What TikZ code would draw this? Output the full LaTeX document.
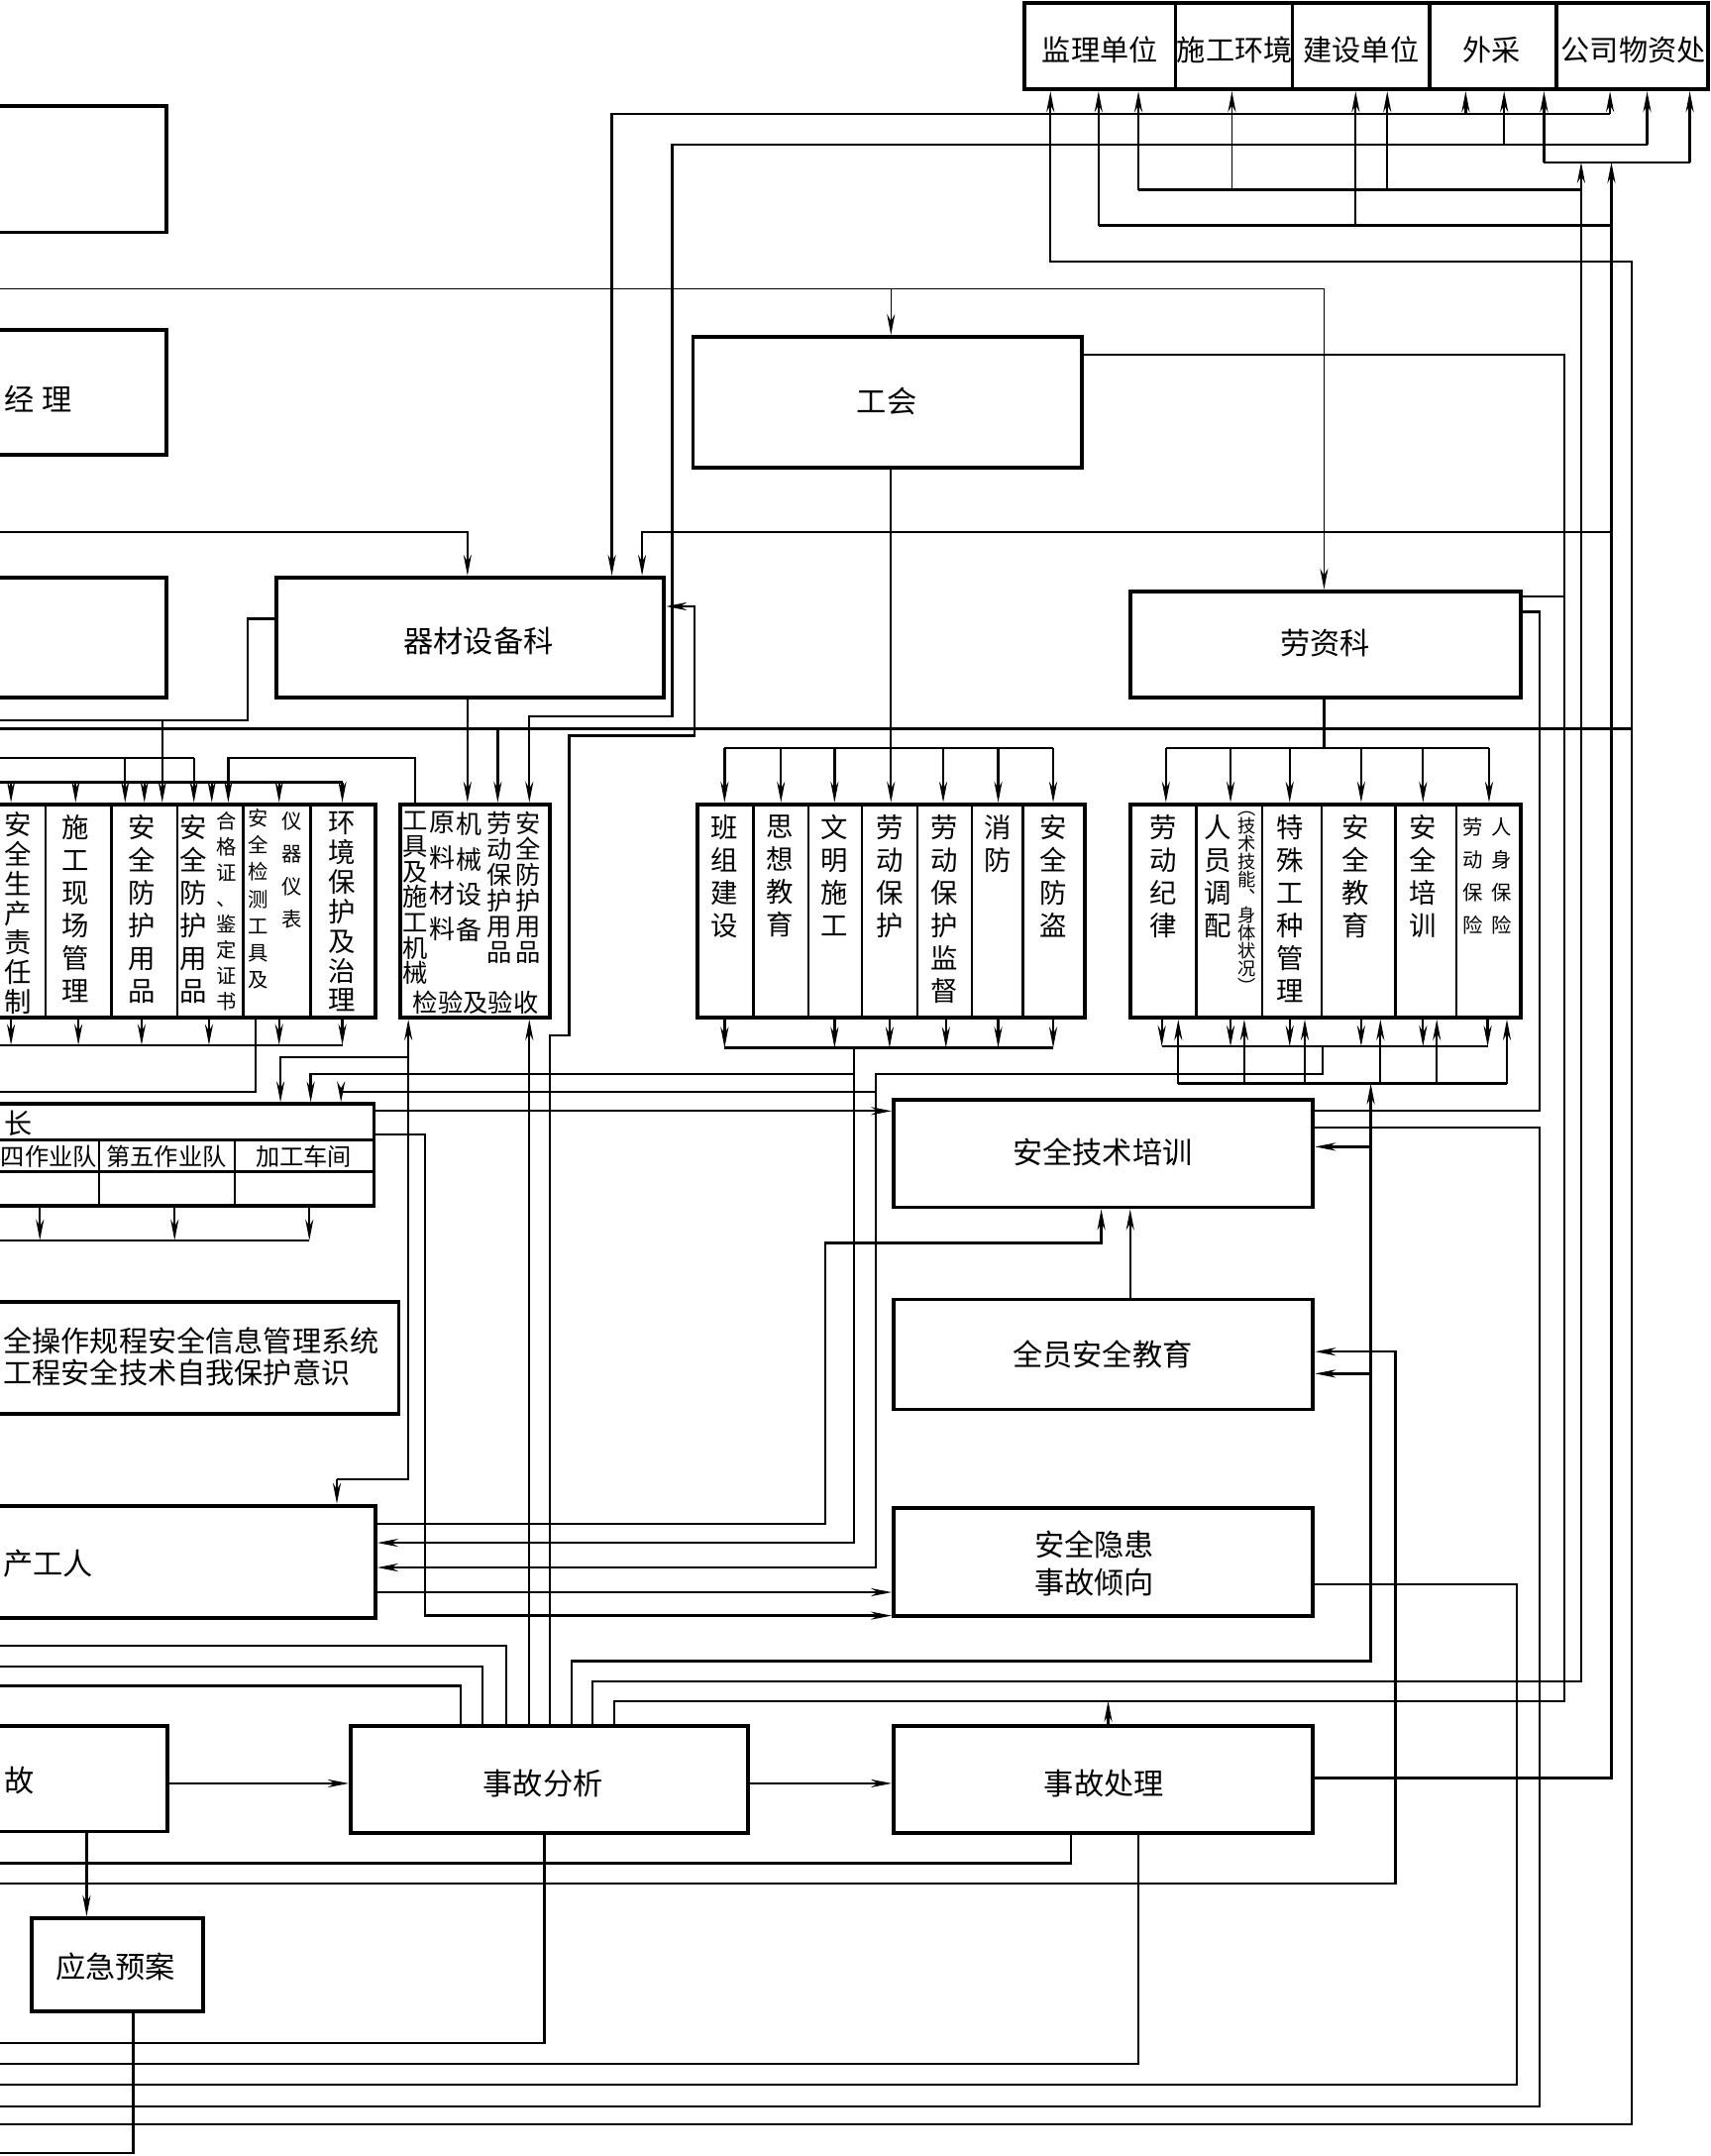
\documentclass[tikz,border=0pt]{standalone}
\usepackage{fontspec}
\setmainfont{Noto Sans CJK SC}
\usetikzlibrary{arrows.meta,fit}

\tikzset{
  box/.style={draw, line width=1.1pt, inner sep=0pt},
  lbl/.style={inner sep=0pt, align=center, font=\fontsize{8.6}{10.6}\selectfont},
  ln/.style={line width=0.65pt},
  thn/.style={line width=0.4pt},
  arr/.style={ln, -{Stealth[length=6pt,width=2.3pt]}},
  rar/.style={ln, {Stealth[length=6pt,width=2.3pt]}-},
  col/.style={anchor=north, align=center, inner sep=0pt, font=\fontsize{7.8}{9.4}\selectfont},
  scol/.style={anchor=north, align=center, inner sep=0pt, font=\fontsize{5.8}{7.4}\selectfont},
}
\lineskiplimit=-10pt

\begin{document}
\begin{tikzpicture}[x=0.01388cm, y=-0.01388cm]
  \useasboundingbox (0,0) rectangle (1244,1568);
  \clip (0,0) rectangle (1244,1568);

  % top row
  \node[box, fit={(745,2) (855,65)}] (jl) {};
  \node[box, fit={(855,2) (940,65)}] (sghj) {};
  \node[box, fit={(940,2) (1040,65)}] (jsdw) {};
  \node[box, fit={(1040,2) (1132,65)}] (wc) {};
  \node[box, fit={(1132,2) (1242,65)}] (gswz) {};
  \node[lbl, font=\fontsize{8.3}{10}\selectfont] (jlt) at (800,36) {监理单位};
  \node[lbl, font=\fontsize{8.3}{10}\selectfont] (sghjt) at (898,36) {施工环境};
  \node[lbl, font=\fontsize{8.3}{10}\selectfont] (jsdwt) at (990,36) {建设单位};
  \node[lbl, font=\fontsize{8.3}{10}\selectfont] (wct) at (1085,36) {外采};
  \node[lbl, font=\fontsize{8.3}{10}\selectfont] (gswzt) at (1188,36) {公司物资处};

  % boxes
  \node[box, fit={(-10,77) (121,169)}] (ga) {};
  \node[box, fit={(-10,240) (121,331)}] (jlb) {};
  \node[lbl, anchor=west] (jlbt) at (3,290) {经\hspace{2pt}理};
  \node[box, fit={(-10,420) (121,507)}] (gc) {};
  \node[box, fit={(201,420) (483,507)}] (qc) {};
  \node[lbl] (qct) at (348,466) {器材设备科};
  \node[box, fit={(504,245) (787,340)}] (gh) {};
  \node[lbl] (ght) at (645,292) {工会};
  \node[box, fit={(822,430) (1106,507)}] (lz) {};
  \node[lbl] (lzt) at (964,468) {劳资科};

  \node[box, fit={(-10,585) (273,740)}] (zr) {};
  \foreach \x in {33,81,129,177,226} \draw[ln] (\x,585) -- (\x,740);
  \node[col, font=\fontsize{7.8}{8.5}\selectfont] (zr1) at (13,590) {安\\全\\生\\产\\责\\任\\制};
  \node[col] (zr2) at (55,592) {施\\工\\现\\场\\管\\理};
  \node[col] (zr3) at (103,592) {安\\全\\防\\护\\用\\品};
  \node[col] (zr4) at (141,592) {安\\全\\防\\护\\用\\品};
  \node[scol] (zr5) at (165,590) {合\\格\\证\\、\\鉴\\定\\证\\书};
  \node[scol, font=\fontsize{5.8}{7.7}\selectfont] (zr6) at (188,588) {安\\全\\检\\测\\工\\具\\及};
  \node[scol, font=\fontsize{5.8}{9.4}\selectfont] (zr7) at (212,590) {仪\\器\\仪\\表};
  \node[col, font=\fontsize{7.8}{8.5}\selectfont] (zr8) at (249,590) {环\\境\\保\\护\\及\\治\\理};

  \node[box, fit={(291,585) (400,740)}] (gj) {};
  \node[col, font=\fontsize{7.2}{7.3}\selectfont] (gj1) at (302,590) {工\\具\\及\\施\\工\\机\\械};
  \node[col, font=\fontsize{7.4}{10.2}\selectfont] (gj2) at (322,590) {原\\料\\材\\料};
  \node[col, font=\fontsize{7.4}{10.2}\selectfont] (gj3) at (341,590) {机\\械\\设\\备};
  \node[col, font=\fontsize{7.2}{7.4}\selectfont] (gj4) at (363,590) {劳\\动\\保\\护\\用\\品};
  \node[col, font=\fontsize{7.2}{7.4}\selectfont] (gj5) at (384,590) {安\\全\\防\\护\\用\\品};
  \node[lbl, font=\fontsize{7.2}{8}\selectfont] (gj6) at (346,729) {检验及验收};

  \node[box, fit={(507,585) (789,740)}] (bz) {};
  \foreach \x in {548,588,627,667,707,744} \draw[ln] (\x,585) -- (\x,740);
  \node[col] (bz1) at (527,592) {班\\组\\建\\设};
  \node[col] (bz2) at (567,592) {思\\想\\教\\育};
  \node[col] (bz3) at (607,592) {文\\明\\施\\工};
  \node[col] (bz4) at (647,592) {劳\\动\\保\\护};
  \node[col] (bz5) at (687,592) {劳\\动\\保\\护\\监\\督};
  \node[col] (bz6) at (726,592) {消\\防};
  \node[col] (bz7) at (766,592) {安\\全\\防\\盗};

  \node[box, fit={(822,585) (1106,740)}] (ld) {};
  \foreach \x in {870,918,961,1015,1059} \draw[ln] (\x,585) -- (\x,740);
  \node[col] (ld1) at (846,592) {劳\\动\\纪\\律};
  \node[col] (ld2) at (886,592) {人\\员\\调\\配};
  \node[scol, font=\fontsize{5.2}{5.1}\selectfont] (ld3) at (907,590) {︵\\技\\术\\技\\能\\︑\\身\\体\\状\\况\\︶};
  \node[col] (ld4) at (938,592) {特\\殊\\工\\种\\管\\理};
  \node[col] (ld5) at (986,592) {安\\全\\教\\育};
  \node[col] (ld6) at (1035,592) {安\\全\\培\\训};
  \node[scol, font=\fontsize{5.8}{9.4}\selectfont] (ld7) at (1071,594) {劳\\动\\保\\险};
  \node[scol, font=\fontsize{5.8}{9.4}\selectfont] (ld8) at (1092,594) {人\\身\\保\\险};

  \node[box, fit={(-10,803) (272,877)}] (dz) {};
  \draw[ln] (-10,829) -- (272,829);
  \draw[ln] (-10,852) -- (272,852);
  \draw[ln] (72,829) -- (72,877);
  \draw[ln] (171,829) -- (171,877);
  \node[lbl, anchor=west, font=\fontsize{8}{9}\selectfont] (dzt) at (3,817) {长};
  \node[lbl, anchor=east, font=\fontsize{6.9}{8}\selectfont] (dz1) at (71,841) {四作业队};
  \node[lbl, font=\fontsize{6.9}{8}\selectfont] (dz2) at (121,841) {第五作业队};
  \node[lbl, font=\fontsize{6.9}{8}\selectfont] (dz3) at (221,841) {加工车间};

  \node[box, fit={(-10,947) (290,1028)}] (aqcz) {};
  \node[lbl, anchor=west, align=left, font=\fontsize{8.3}{9.1}\selectfont] (aqczt) at (2,987) {全操作规程安全信息管理系统\\工程安全技术自我保护意识};

  \node[box, fit={(650,800) (955,878)}] (aqjs) {};
  \node[lbl] (aqjst) at (802,838) {安全技术培训};
  \node[box, fit={(650,945) (955,1025)}] (qyaq) {};
  \node[lbl] (qyaqt) at (802,985) {全员安全教育};
  \node[box, fit={(-10,1095) (273,1177)}] (scgr) {};
  \node[lbl, anchor=west] (scgrt) at (2,1137) {产工人};
  \node[box, fit={(650,1097) (955,1175)}] (aqyh) {};
  \node[lbl] (aqyht) at (796,1137) {安全隐患\\事故倾向};
  \node[box, fit={(-10,1255) (122,1332)}] (sg) {};
  \node[lbl, anchor=west] (sgt) at (3,1295) {故};
  \node[box, fit={(255,1255) (544,1333)}] (sgfx) {};
  \node[lbl] (sgfxt) at (395,1297) {事故分析};
  \node[box, fit={(650,1255) (955,1333)}] (sgcl) {};
  \node[lbl] (sgclt) at (803,1297) {事故处理};
  \node[box, fit={(23,1395) (148,1463)}] (yjya) {};
  \node[lbl] (yjyat) at (84,1430) {应急预案};

  % lines to the top row
  \draw[rar] (qc.north -| 445,0) -- (445,83) -- (1171,83);
  \draw[arr] (1171,83) -- (gswz.south -| 1171,0);
  \draw[arr] (1066,83) -- (wc.south -| 1066,0);
  \draw[arr] (1094,105) -- (wc.south -| 1094,0);
  \draw[arr] (1198,105) -- (gswz.south -| 1198,0);
  \draw[arr] (1198,105) -- (489,105) -- (489,521) -- (385,521) -- (gj.north -| 385,0);
  \draw[ln] (1123,118) -- (1229,118);
  \draw[arr] (1123,118) -- (wc.south -| 1123,0);
  \draw[arr] (1229,118) -- (gswz.south -| 1229,0);
  \draw[arr] (sgfx.north -| 431,0) -- (431,1223) -- (1150,1223) -- (1150,118);
  \draw[ln] (828,138) -- (1150,138);
  \draw[arr] (828,138) -- (jl.south -| 828,0);
  \draw[arr, thn] (896,138) -- (sghj.south -| 896,0);
  \draw[arr] (1009,138) -- (jsdw.south -| 1009,0);
  \draw[arr] (sgcl.east |- 0,1293) -- (1172,1293) -- (1172,118);
  \draw[ln] (799,164) -- (1172,164);
  \draw[arr] (799,164) -- (jl.south -| 799,0);
  \draw[arr] (986,164) -- (jsdw.south -| 986,0);
  \draw[rar] (qc.north -| 467,0) -- (467,387) -- (1172,387);
  \draw[rar] (jl.south -| 764,0) -- (764,190) -- (1187,190) -- (1187,1545) -- (0,1545);

  % union and labour office
  \draw[arr, thn] (0,210) -- (963,210) -- (lz.north -| 963,0);
  \draw[arr, thn] (648,210) -- (gh.north -| 648,0);
  \draw[ln] (gh.east |- 0,258) -- (1138,258) -- (1138,1237) -- (447,1237) -- (sgfx.north -| 447,0);
  \draw[ln] (lz.east |- 0,434) -- (1138,434);
  \draw[arr] (sgcl.north -| 806,0) -- (806,1237);
  \draw[arr, thn] (0,387) -- (340,387) -- (qc.north -| 340,0);

  % equipment office
  \draw[ln] (qc.west |- 0,450) -- (180,450) -- (180,524) -- (0,524);
  \draw[arr] (118,524) -- (zr.north -| 118,0);
  \draw[ln] (0,530) -- (1187,530);
  \draw[arr] (362,530) -- (gj.north -| 362,0);
  \draw[arr] (qc.south -| 340,0) -- (gj.north -| 340,0);
  \draw[ln] (0,551) -- (141,551);
  \foreach \x in {91,141} \draw[arr] (\x,551) -- (zr.north -| \x,0);
  \draw[arr] (gj.north -| 302,0) -- (302,551) -- (166,551) -- (zr.north -| 166,0);
  \draw[ln] (0,569) -- (249,569);
  \foreach \x in {8,55,105,154,203,249} \draw[arr] (\x,569) -- (zr.north -| \x,0);
  \foreach \x in {8,57,103,152,203,249} \draw[arr] (zr.south -| \x,0) -- (\x,760);
  \draw[ln] (0,760) -- (249,760);
  \draw[ln] (zr.south -| 186,0) -- (186,794) -- (0,794);
  \draw[rar] (qc.east |- 0,441) -- (505,441) -- (505,535) -- (414,535) -- (414,753) -- (400,753) -- (sgfx.north -| 400,0);

  % tools box
  \draw[rar] (gj.south -| 297,0) -- (297,1076) -- (245,1076);
  \draw[arr] (245,1076) -- (scgr.north -| 245,0);
  \draw[arr] (297,769) -- (204,769) -- (dz.north -| 204,0);
  \draw[rar] (gj.south -| 385,0) -- (sgfx.north -| 385,0);

  % team group
  \draw[ln] (527,544) -- (766,544);
  \foreach \x in {527,568,607,686,726,766} \draw[arr] (\x,544) -- (bz.north -| \x,0);
  \draw[arr] (gh.south -| 648,0) -- (bz.north -| 648,0);
  \foreach \x in {527,607,647,688,726,766} \draw[arr] (bz.south -| \x,0) -- (\x,762);
  \draw[ln] (527,762) -- (766,762);
  \draw[arr] (621,762) -- (621,1122) -- (scgr.east |- 0,1122);
  \draw[arr] (621,781) -- (226,781) -- (dz.north -| 226,0);

  % labour group
  \draw[ln] (848,544) -- (1083,544);
  \draw[ln] (lz.south -| 963,0) -- (963,544);
  \foreach \x in {848,895,938,990,1035,1083} \draw[arr] (\x,544) -- (ld.north -| \x,0);
  \foreach \x in {845,895,938,990,1035,1082} \draw[arr] (ld.south -| \x,0) -- (\x,761);
  \draw[ln] (845,761) -- (1082,761);
  \draw[arr] (962,761) -- (962,781) -- (637,781) -- (637,1140) -- (scgr.east |- 0,1140);
  \draw[arr] (637,794) -- (248,794) -- (dz.north -| 248,0);
  \draw[ln] (857,788) -- (1096,788);
  \foreach \x in {857,905,949,1004,1045,1096} \draw[arr] (\x,788) -- (ld.south -| \x,0);
  \draw[arr] (sgfx.north -| 416,0) -- (416,1208) -- (997,1208) -- (997,788);
  \draw[arr] (997,834) -- (aqjs.east |- 0,834);
  \draw[arr] (997,999) -- (qyaq.east |- 0,999);

  % team leader box
  \foreach \x in {29,127,225} \draw[arr] (dz.south -| \x,0) -- (\x,902);
  \draw[ln] (0,902) -- (225,902);
  \draw[arr] (dz.east |- 0,808) -- (aqjs.west |- 0,808);
  \draw[arr] (dz.east |- 0,825) -- (309,825) -- (309,1175) -- (aqyh.west |- 0,1175);

  % workers
  \draw[arr] (scgr.east |- 0,1108) -- (600,1108) -- (600,904) -- (801,904) -- (aqjs.south -| 801,0);
  \draw[arr] (qyaq.north -| 822,0) -- (aqjs.south -| 822,0);
  \draw[arr] (scgr.east |- 0,1158) -- (aqyh.west |- 0,1158);

  % right side
  \draw[ln] (lz.east |- 0,445) -- (1120,445) -- (1120,808) -- (aqjs.east |- 0,808);
  \draw[ln] (aqjs.east |- 0,820) -- (1120,820) -- (1120,1532) -- (0,1532);
  \draw[rar] (qyaq.east |- 0,983) -- (1015,983) -- (1015,1370) -- (0,1370);
  \draw[ln] (aqyh.east |- 0,1152) -- (1103,1152) -- (1103,1516) -- (0,1516);

  % accident chain
  \draw[arr] (sg.east |- 0,1297) -- (sgfx.west |- 0,1297);
  \draw[arr] (sgfx.east |- 0,1297) -- (sgcl.west |- 0,1297);
  \draw[arr] (sg.south -| 63,0) -- (yjya.north -| 63,0);
  \draw[ln] (yjya.south -| 97,0) -- (97,1566) -- (0,1566);
  \draw[ln] (sgfx.south -| 396,0) -- (396,1486) -- (0,1486);
  \draw[ln] (sgcl.south -| 779,0) -- (779,1355) -- (0,1355);
  \draw[ln] (sgcl.south -| 828,0) -- (828,1501) -- (0,1501);
  \draw[ln] (sgfx.north -| 335,0) -- (335,1226) -- (0,1226);
  \draw[ln] (sgfx.north -| 351,0) -- (351,1212) -- (0,1212);
  \draw[ln] (sgfx.north -| 368,0) -- (368,1197) -- (0,1197);
\end{tikzpicture}
\end{document}
